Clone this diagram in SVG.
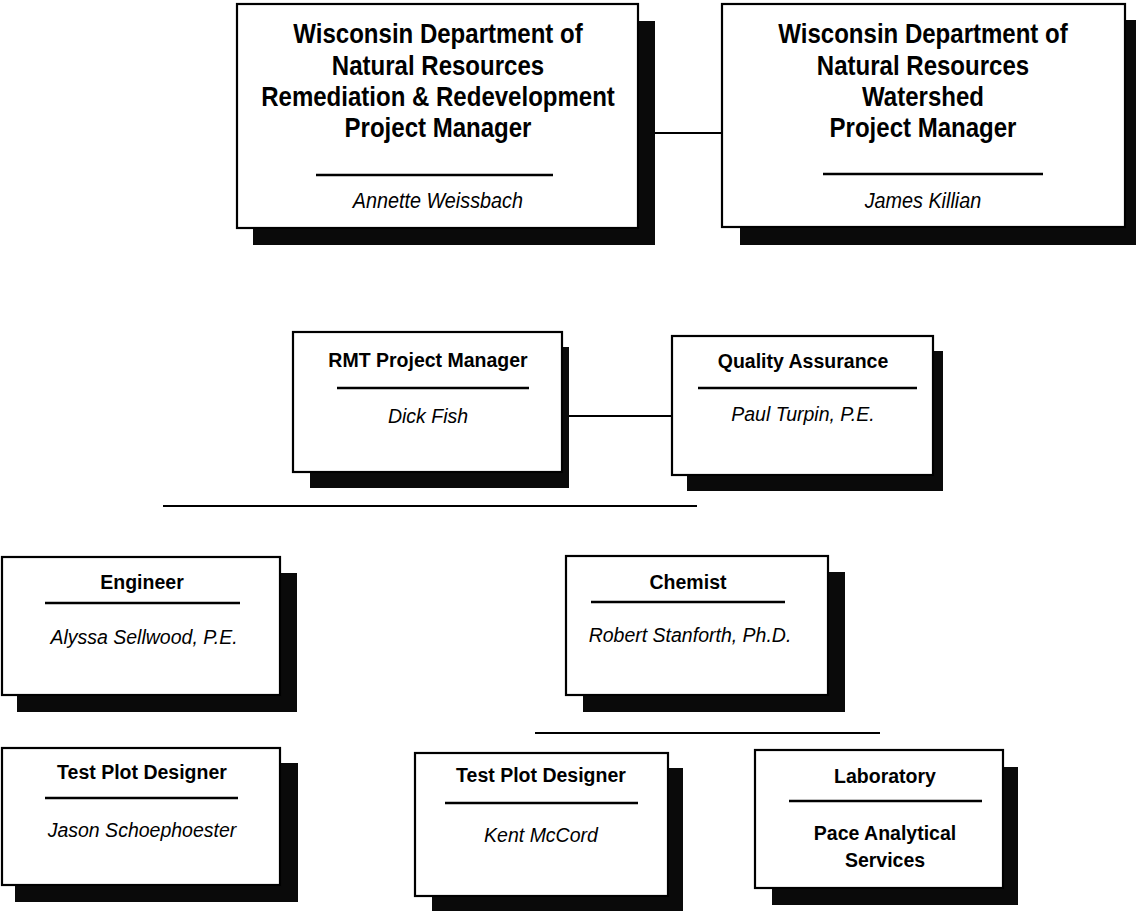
<svg xmlns="http://www.w3.org/2000/svg" width="1136" height="911" viewBox="0 0 1136 911">
<style>
.shadow{fill:#0a0a0a}
.box{fill:#fff;stroke:#000;stroke-width:2.2}
.sep{stroke:#000;stroke-width:2.4}
.conn{stroke:#000;stroke-width:2;fill:none}
.tb{font-family:"Liberation Sans",Arial,sans-serif;font-weight:bold;font-size:27px;fill:#000;text-anchor:middle;transform-box:fill-box;transform-origin:center;transform:scaleX(0.89)}
.nb{font-family:"Liberation Sans",Arial,sans-serif;font-style:italic;font-size:22px;fill:#000;text-anchor:middle;transform-box:fill-box;transform-origin:center;transform:scaleX(0.9)}
.t{font-family:"Liberation Sans",Arial,sans-serif;font-weight:bold;font-size:19.5px;fill:#000;text-anchor:middle}
.n{font-family:"Liberation Sans",Arial,sans-serif;font-style:italic;font-size:19.5px;fill:#000;text-anchor:middle}
</style>
<rect width="1136" height="911" fill="#fff"/>
<g id="connectors">
<line class="conn" x1="655" y1="133" x2="722" y2="133"/>
<line class="conn" x1="569" y1="416" x2="672" y2="416"/>
<line class="conn" x1="163" y1="506" x2="697" y2="506"/>
<line class="conn" x1="535" y1="733" x2="880" y2="733"/>
</g>
<g id="dnr-rr">
<rect class="shadow" x="253" y="21" width="402" height="224"/>
<rect class="box" x="237" y="4" width="401" height="224"/>
<text class="tb" x="438" y="43">Wisconsin Department of</text>
<text class="tb" x="438" y="75">Natural Resources</text>
<text class="tb" x="438" y="106">Remediation &amp; Redevelopment</text>
<text class="tb" x="438" y="137">Project Manager</text>
<line class="sep" x1="316" y1="175" x2="553" y2="175"/>
<text class="nb" x="438" y="208">Annette Weissbach</text>
</g>
<g id="dnr-watershed">
<rect class="shadow" x="740" y="20" width="396" height="225"/>
<rect class="box" x="722" y="4" width="403" height="223"/>
<text class="tb" x="923" y="43">Wisconsin Department of</text>
<text class="tb" x="923" y="75">Natural Resources</text>
<text class="tb" x="923" y="106">Watershed</text>
<text class="tb" x="923" y="137">Project Manager</text>
<line class="sep" x1="823" y1="174" x2="1043" y2="174"/>
<text class="nb" x="923" y="208">James Killian</text>
</g>
<g id="rmt-pm">
<rect class="shadow" x="310" y="347" width="259" height="141"/>
<rect class="box" x="293" y="332" width="269" height="140"/>
<text class="t" x="428" y="367">RMT Project Manager</text>
<line class="sep" x1="337" y1="388" x2="529" y2="388"/>
<text class="n" x="428" y="423">Dick Fish</text>
</g>
<g id="qa">
<rect class="shadow" x="687" y="351" width="256" height="140"/>
<rect class="box" x="672" y="336" width="261" height="139"/>
<text class="t" x="803" y="368">Quality Assurance</text>
<line class="sep" x1="698" y1="388" x2="917" y2="388"/>
<text class="n" x="803" y="421">Paul Turpin, P.E.</text>
</g>
<g id="engineer">
<rect class="shadow" x="17" y="573" width="280" height="139"/>
<rect class="box" x="2" y="557" width="278" height="138"/>
<text class="t" x="142" y="589">Engineer</text>
<line class="sep" x1="45" y1="603" x2="240" y2="603"/>
<text class="n" x="144" y="644">Alyssa Sellwood, P.E.</text>
</g>
<g id="chemist">
<rect class="shadow" x="583" y="572" width="262" height="140"/>
<rect class="box" x="566" y="556" width="262" height="139"/>
<text class="t" x="688" y="589">Chemist</text>
<line class="sep" x1="591" y1="602" x2="785" y2="602"/>
<text class="n" x="690" y="642">Robert Stanforth, Ph.D.</text>
</g>
<g id="tpd-left">
<rect class="shadow" x="15" y="763" width="283" height="139"/>
<rect class="box" x="2" y="748" width="278" height="137"/>
<text class="t" x="142" y="779">Test Plot Designer</text>
<line class="sep" x1="45" y1="798" x2="238" y2="798"/>
<text class="n" x="142" y="837">Jason Schoephoester</text>
</g>
<g id="tpd-mid">
<rect class="shadow" x="432" y="768" width="251" height="143"/>
<rect class="box" x="415" y="753" width="253" height="143"/>
<text class="t" x="541" y="782">Test Plot Designer</text>
<line class="sep" x1="445" y1="803" x2="638" y2="803"/>
<text class="n" x="541" y="842">Kent McCord</text>
</g>
<g id="laboratory">
<rect class="shadow" x="772" y="767" width="246" height="138"/>
<rect class="box" x="755" y="750" width="248" height="138"/>
<text class="t" x="885" y="783">Laboratory</text>
<line class="sep" x1="789" y1="801" x2="982" y2="801"/>
<text class="t" x="885" y="840">Pace Analytical</text>
<text class="t" x="885" y="867">Services</text>
</g>
</svg>
